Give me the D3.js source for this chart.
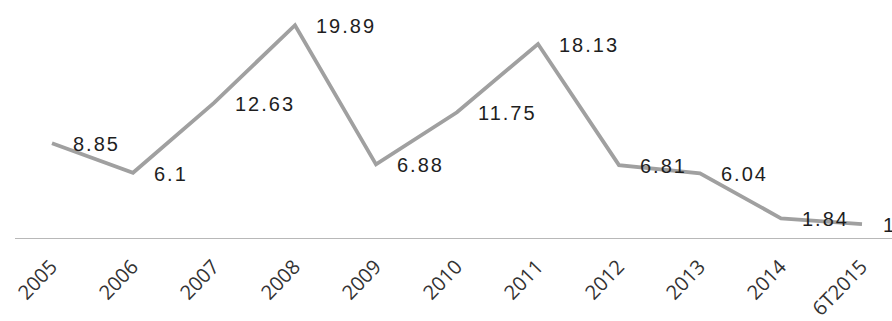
<!DOCTYPE html>
<html>
<head>
<meta charset="utf-8">
<script src="https://cdn.jsdelivr.net/npm/d3@7"></script>
<style>
  html, body { margin: 0; padding: 0; background: #fff; }
  svg { display: block; }
</style>
</head>
<body>
<div id="chart"></div>
<script>
const years = ['2005', '2006', '2007', '2008', '2009', '2010', '2011', '2012', '2013', '2014', '6T2015'];
const values = [8.85, 6.1, 12.63, 19.89, 6.88, 11.75, 18.13, 6.81, 6.04, 1.84, 1.3];
const valueLabels = ['8.85', '6.1', '12.63', '19.89', '6.88', '11.75', '18.13', '6.81', '6.04', '1.84', '1.3'];

const WIDTH = 892;
const HEIGHT = 321;

const svg = d3.select('#chart')
    .append('svg')
    .attr('width', WIDTH)
    .attr('height', HEIGHT);

const x = d3.scalePoint()
    .domain(years)
    .range([52, 862]);

const y = d3.scaleLinear()
    .domain([0, 20])
    .range([238, 24]);

// baseline
svg.append('line')
    .attr('x1', 15)
    .attr('x2', WIDTH)
    .attr('y1', y(0) + 0.5)
    .attr('y2', y(0) + 0.5)
    .attr('stroke', '#b8b8b8')
    .attr('stroke-width', 1.2);

// x axis labels, rotated
const xAxis = d3.axisBottom(x).tickSize(0).tickPadding(0);
const axisG = svg.append('g')
    .attr('transform', `translate(0, ${y(0)})`)
    .call(xAxis);
axisG.select('.domain').remove();
axisG.selectAll('text')
    .attr('font-family', '"Open Sans", sans-serif')
    .attr('font-size', 20)
    .attr('fill', '#333')
    .attr('text-anchor', 'end')
    .attr('dy', null)
    .attr('y', 0)
    .attr('transform', 'translate(6, 30) rotate(-46)');

const points = years.map((yr, i) => ({ year: yr, value: values[i], label: valueLabels[i] }));

const line = d3.line()
    .x(d => x(d.year))
    .y(d => y(d.value));

svg.append('path')
    .datum(points)
    .attr('fill', 'none')
    .attr('stroke', '#a0a0a0')
    .attr('stroke-width', 3.8)
    .attr('stroke-linejoin', 'miter')
    .attr('d', line);

// value labels; the last one runs off the right edge as in the source
svg.append('g')
    .selectAll('text')
    .data(points)
    .join('text')
    .attr('x', d => x(d.year) + 21)
    .attr('y', d => y(d.value) + 8)
    .attr('font-family', 'Arial, "Liberation Sans", sans-serif')
    .attr('font-size', 20)
    .attr('letter-spacing', 2)
    .attr('fill', '#1e1e1e')
    .text(d => d.label);
</script>
</body>
</html>
